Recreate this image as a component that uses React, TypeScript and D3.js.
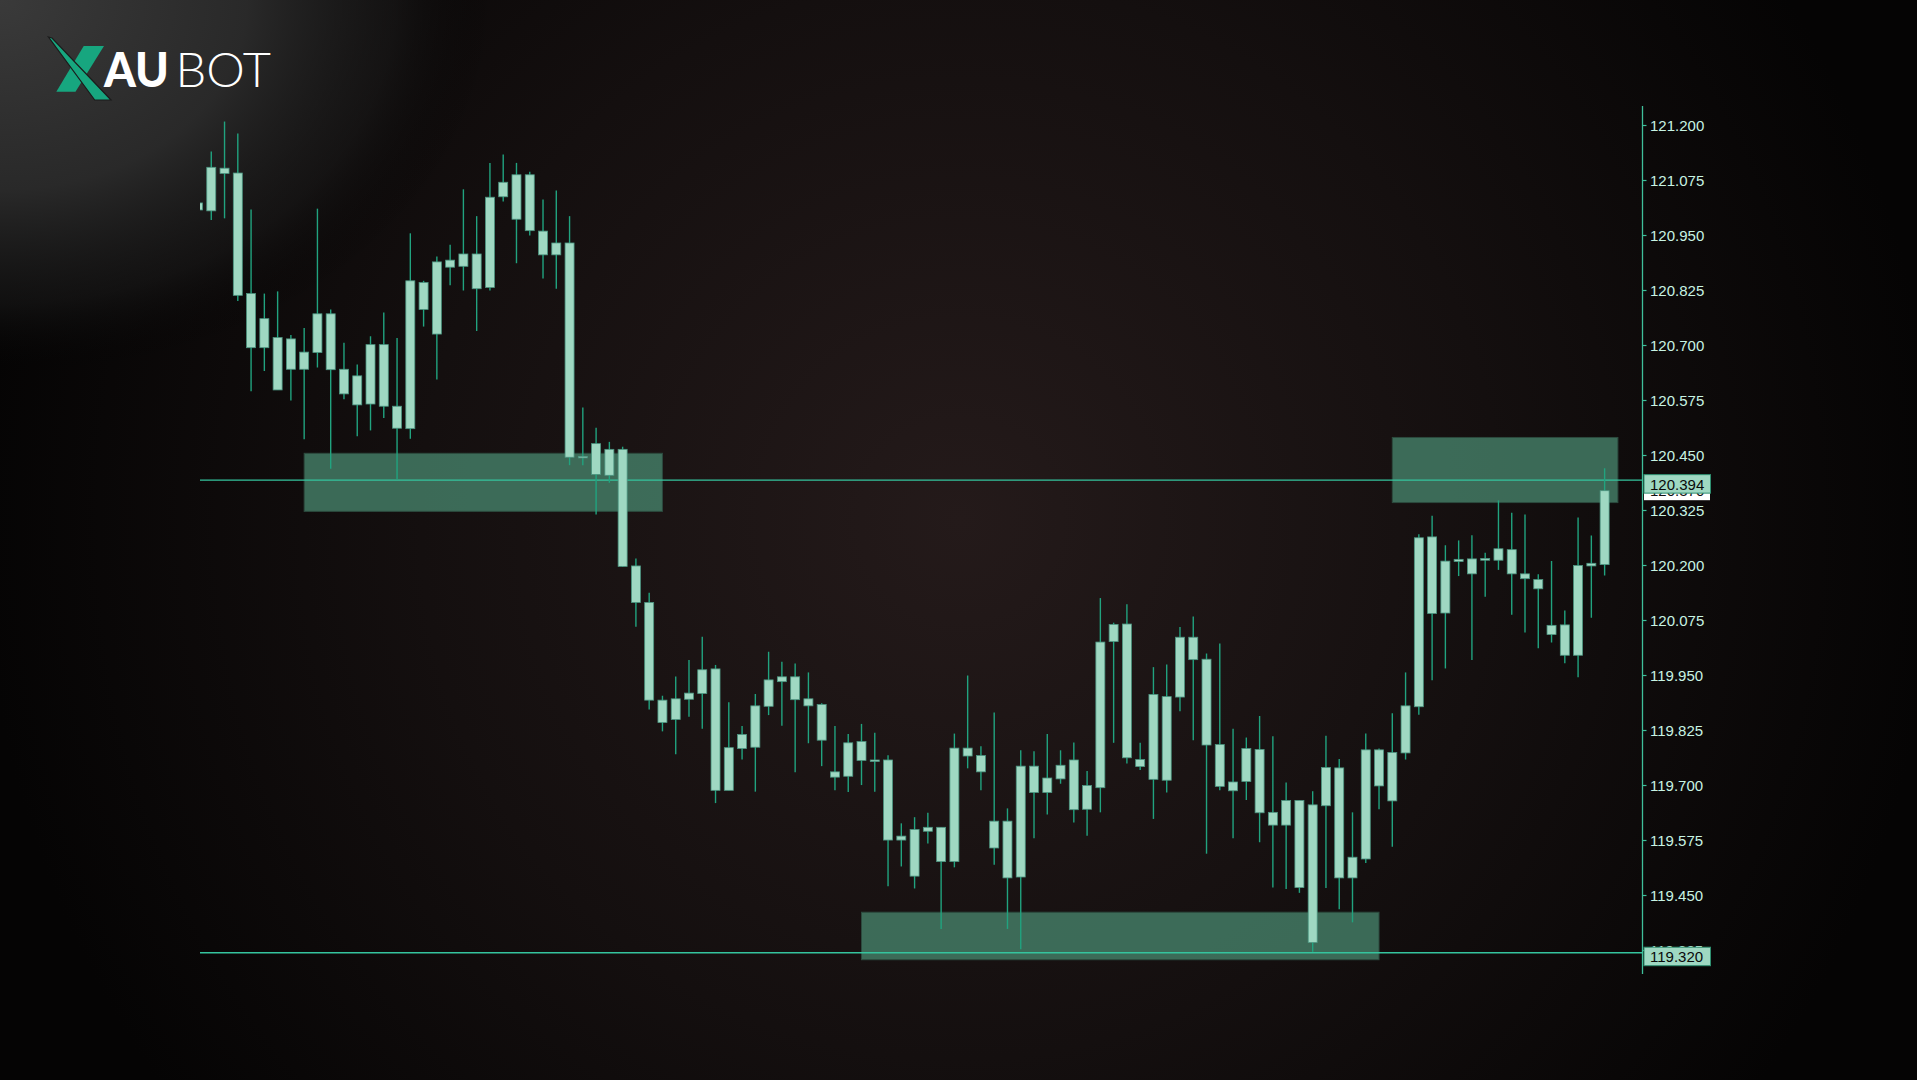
import { useEffect, useRef } from 'react'
import * as d3 from 'd3'

// candle data (one entry per bar, left to right)
const OPEN = [
  121.008, 121.006, 121.103, 121.092, 120.818, 120.761, 120.599, 120.715, 120.646, 120.772,
  120.772, 120.646, 120.565, 120.702, 120.702, 120.512, 120.511, 120.843, 120.726, 120.878,
  120.908, 120.829, 120.832, 121.071, 121.088, 121.088, 120.960, 120.933, 120.933, 120.448,
  120.477, 120.405, 120.464, 120.199, 120.116, 119.894, 119.850, 119.896, 119.909, 119.965,
  119.689, 119.784, 119.787, 119.880, 119.936, 119.947, 119.897, 119.884, 119.731, 119.721,
  119.800, 119.758, 119.758, 119.576, 119.600, 119.596, 119.605, 119.527, 119.785, 119.768,
  119.619, 119.619, 119.492, 119.744, 119.684, 119.715, 119.758, 119.646, 119.695, 120.027,
  120.067, 119.759, 119.714, 119.712, 119.901, 120.037, 119.987, 119.793, 119.688, 119.709,
  119.782, 119.639, 119.610, 119.666, 119.656, 119.654, 119.740, 119.490, 119.533, 119.781,
  119.665, 119.774, 119.879, 120.265, 120.092, 120.209, 120.215, 120.212, 120.212, 120.236,
  120.181, 120.168, 120.064, 120.065, 119.996, 120.199, 120.202,
]
const CLOSE = [
  121.024, 121.105, 121.091, 120.814, 120.695, 120.695, 120.718, 120.646, 120.685, 120.684,
  120.645, 120.590, 120.631, 120.567, 120.562, 120.562, 120.847, 120.782, 120.890, 120.894,
  120.880, 120.908, 121.037, 121.038, 120.987, 120.961, 120.906, 120.906, 120.446, 120.446,
  120.407, 120.464, 120.198, 120.116, 119.894, 119.843, 119.897, 119.910, 119.963, 119.689,
  119.786, 119.816, 119.881, 119.940, 119.947, 119.895, 119.881, 119.803, 119.719, 119.797,
  119.757, 119.755, 119.576, 119.585, 119.494, 119.605, 119.527, 119.785, 119.767, 119.731,
  119.558, 119.490, 119.744, 119.684, 119.717, 119.746, 119.645, 119.700, 120.026, 120.066,
  119.763, 119.743, 119.907, 119.902, 120.037, 119.986, 119.792, 119.698, 119.708, 119.784,
  119.638, 119.610, 119.666, 119.468, 119.343, 119.741, 119.490, 119.537, 119.781, 119.699,
  119.775, 119.881, 120.263, 120.091, 120.210, 120.214, 120.181, 120.216, 120.238, 120.181,
  120.170, 120.147, 120.043, 119.996, 120.200, 120.205, 120.370,
]
const HIGH = [
  121.030, 121.141, 121.209, 121.182, 121.009, 120.818, 120.823, 120.724, 120.740, 121.011,
  120.782, 120.706, 120.657, 120.721, 120.775, 120.717, 120.955, 120.847, 120.902, 120.929,
  121.055, 120.994, 121.115, 121.134, 121.115, 121.095, 121.032, 121.052, 120.994, 120.559,
  120.513, 120.481, 120.470, 120.216, 120.138, 119.904, 119.948, 119.985, 120.038, 119.974,
  119.889, 119.835, 119.908, 120.004, 119.981, 119.977, 119.957, 119.887, 119.835, 119.817,
  119.840, 119.820, 119.769, 119.614, 119.628, 119.638, 119.605, 119.818, 119.950, 119.789,
  119.866, 119.648, 119.780, 119.778, 119.817, 119.780, 119.798, 119.733, 120.126, 120.070,
  120.112, 119.797, 119.969, 119.975, 120.060, 120.084, 120.000, 120.023, 119.829, 119.809,
  119.858, 119.812, 119.707, 119.666, 119.687, 119.813, 119.760, 119.639, 119.818, 119.784,
  119.864, 119.957, 120.271, 120.313, 120.246, 120.257, 120.269, 120.229, 120.348, 120.320,
  120.316, 120.180, 120.210, 120.098, 120.309, 120.268, 120.421,
]
const LOW = [
  121.000, 120.985, 120.989, 120.801, 120.596, 120.642, 120.599, 120.575, 120.487, 120.650,
  120.420, 120.578, 120.494, 120.507, 120.535, 120.396, 120.488, 120.743, 120.623, 120.837,
  120.825, 120.733, 120.825, 121.027, 120.887, 120.950, 120.852, 120.829, 120.428, 120.428,
  120.316, 120.388, 120.197, 120.061, 119.873, 119.823, 119.771, 119.856, 119.829, 119.660,
  119.689, 119.759, 119.686, 119.860, 119.836, 119.730, 119.796, 119.744, 119.689, 119.685,
  119.701, 119.686, 119.471, 119.516, 119.466, 119.568, 119.374, 119.514, 119.739, 119.689,
  119.520, 119.374, 119.328, 119.580, 119.634, 119.704, 119.616, 119.586, 119.639, 119.797,
  119.750, 119.735, 119.624, 119.684, 119.869, 119.803, 119.545, 119.689, 119.580, 119.667,
  119.571, 119.468, 119.465, 119.456, 119.322, 119.467, 119.419, 119.389, 119.524, 119.646,
  119.561, 119.759, 119.861, 119.939, 119.966, 120.176, 119.985, 120.129, 120.190, 120.088,
  120.048, 120.012, 120.025, 119.978, 119.946, 120.081, 120.177,
]

const TICKS = [
  121.2, 121.075, 120.95, 120.825, 120.7, 120.575, 120.45, 120.325,
  120.2, 120.075, 119.95, 119.825, 119.7, 119.575, 119.45, 119.325,
]

// supply / demand zones (bar index range and price range)
const ZONE_START = [8, 50, 90]
const ZONE_END = [35, 89, 107]
const ZONE_TOP = [120.455, 119.412, 120.491]
const ZONE_BOTTOM = [120.323, 119.304, 120.343]

const LEVELS = [120.394, 119.32]
const LAST_PRICE = 120.37

export default function App() {
  const ref = useRef<SVGSVGElement>(null)

  useEffect(() => {
    if (!ref.current) return
    document.body.style.margin = '0'
    document.body.style.overflow = 'hidden'

    const width = 1917
    const height = 1080
    const axisX = 1642.5

    const svg = d3.select(ref.current)
    svg.selectAll('*').remove()
    svg.attr('width', width).attr('height', height).attr('viewBox', `0 0 ${width} ${height}`)

    const x = d3.scaleLinear().domain([0, 106]).range([198, 198 + 106 * 13.27])
    const y = d3.scaleLinear().domain([119.45, 121.2]).range([895.5, 125.5])

    const defs = svg.append('defs')

    // Background
    const glow = defs.append('radialGradient').attr('id', 'glow')
      .attr('gradientUnits', 'userSpaceOnUse')
      .attr('cx', 960).attr('cy', 520).attr('r', 980)
    glow.append('stop').attr('offset', 0).attr('stop-color', '#241a1a')
    glow.append('stop').attr('offset', 0.55).attr('stop-color', '#140f0f')
    glow.append('stop').attr('offset', 1).attr('stop-color', '#050404')

    const corner = defs.append('radialGradient').attr('id', 'corner')
      .attr('gradientUnits', 'userSpaceOnUse')
      .attr('cx', 0).attr('cy', 0).attr('r', 380)
      .attr('gradientTransform', 'scale(1.3,1)')
    corner.append('stop').attr('offset', 0).attr('stop-color', '#3a3a3a').attr('stop-opacity', 1)
    corner.append('stop').attr('offset', 0.5).attr('stop-color', '#2b2b2b').attr('stop-opacity', 0.95)
    corner.append('stop').attr('offset', 0.8).attr('stop-color', '#1c1c1c').attr('stop-opacity', 0.5)
    corner.append('stop').attr('offset', 1).attr('stop-color', '#000').attr('stop-opacity', 0)

    defs.append('clipPath').attr('id', 'plot')
      .append('rect').attr('x', 200).attr('y', 0).attr('width', axisX - 200).attr('height', height)

    svg.append('rect').attr('width', width).attr('height', height).attr('fill', 'url(#glow)')
    svg.append('rect').attr('width', width).attr('height', height).attr('fill', 'url(#corner)')

    // Logo
    const logo = svg.append('g')
    logo.append('polygon')
      .attr('points', '83.7,46 104,46 75.5,91.7 56.3,91.7')
      .attr('fill', '#17a67f')
    logo.append('polygon')
      .attr('points', '48.5,37 52,38 111,100 94.7,100')
      .attr('fill', '#17a67f')
      .attr('stroke', '#1b1b1b').attr('stroke-width', 1.2)
    logo.append('text')
      .attr('x', 104).attr('y', 86.7)
      .attr('font-family', 'Lato, "Open Sans", sans-serif')
      .attr('font-weight', 900).attr('font-size', 47)
      .attr('fill', '#ffffff')
      .attr('textLength', 65).attr('lengthAdjust', 'spacingAndGlyphs')
      .text('AU')
    logo.append('text')
      .attr('x', 175.5).attr('y', 86.7)
      .attr('font-family', 'Lato, "Open Sans", sans-serif')
      .attr('font-weight', 300).attr('font-size', 47)
      .attr('fill', '#ffffff')
      .attr('textLength', 95.5).attr('lengthAdjust', 'spacingAndGlyphs')
      .text('BOT')

    const plot = svg.append('g').attr('clip-path', 'url(#plot)')

    // Zones
    ZONE_START.forEach((s, i) => {
      plot.append('rect')
        .attr('x', x(s)).attr('y', y(ZONE_TOP[i]))
        .attr('width', x(ZONE_END[i]) - x(s))
        .attr('height', y(ZONE_BOTTOM[i]) - y(ZONE_TOP[i]))
        .attr('fill', '#4a8a70').attr('fill-opacity', 0.75)
        .attr('stroke', '#2c4a3e').attr('stroke-width', 1)
    })

    // Level lines
    LEVELS.forEach(l => {
      plot.append('line')
        .attr('x1', 200).attr('x2', axisX)
        .attr('y1', y(l)).attr('y2', y(l))
        .attr('stroke', '#35c49e').attr('stroke-width', 1.4)
    })

    // Candles
    const idx = d3.range(OPEN.length)
    const bw = 9
    plot.append('g').selectAll('line')
      .data(idx).join('line')
      .attr('x1', d => x(d)).attr('x2', d => x(d))
      .attr('y1', d => y(HIGH[d])).attr('y2', d => y(LOW[d]))
      .attr('stroke', '#21a37f').attr('stroke-width', 1.4)

    plot.append('g').selectAll('rect')
      .data(idx).join('rect')
      .attr('x', d => x(d) - bw / 2)
      .attr('y', d => y(Math.max(OPEN[d], CLOSE[d])))
      .attr('width', bw)
      .attr('height', d => Math.max(1.5, Math.abs(y(OPEN[d]) - y(CLOSE[d]))))
      .attr('fill', '#9fd8c2')
      .attr('stroke', '#4b9580').attr('stroke-width', 0.8)

    // Price axis
    svg.append('line')
      .attr('x1', axisX).attr('x2', axisX)
      .attr('y1', 106).attr('y2', 974)
      .attr('stroke', '#3fbf9a').attr('stroke-width', 1.3)

    const ticks = svg.append('g')
    TICKS.forEach(t => {
      ticks.append('line')
        .attr('x1', axisX).attr('x2', axisX + 4)
        .attr('y1', y(t)).attr('y2', y(t))
        .attr('stroke', '#3fbf9a').attr('stroke-width', 1.2)
      ticks.append('text')
        .attr('x', 1650).attr('y', y(t)).attr('dy', '0.36em')
        .attr('font-family', '"Liberation Sans", Arial, sans-serif')
        .attr('font-size', 15)
        .attr('fill', '#c8f3e3')
        .text(d3.format('.3f')(t))
    })

    // Last price label (white), partly hidden under the level label
    svg.append('rect')
      .attr('x', 1644).attr('y', y(LAST_PRICE) - 8.5)
      .attr('width', 66).attr('height', 18)
      .attr('fill', '#ffffff')
    svg.append('text')
      .attr('x', 1650).attr('y', y(LAST_PRICE)).attr('dy', '0.36em')
      .attr('font-family', '"Liberation Sans", Arial, sans-serif')
      .attr('font-size', 15).attr('fill', '#111')
      .text(d3.format('.3f')(LAST_PRICE))

    // Level labels
    LEVELS.forEach(l => {
      svg.append('rect')
        .attr('x', 1644).attr('y', y(l) - 5.5)
        .attr('width', 66.5).attr('height', 18.5)
        .attr('fill', '#9fd8c2')
        .attr('stroke', '#2f8f70').attr('stroke-width', 1)
      svg.append('text')
        .attr('x', 1650).attr('y', y(l) + 9.5)
        .attr('font-family', '"Liberation Sans", Arial, sans-serif')
        .attr('font-size', 15).attr('fill', '#0a0a0a')
        .text(d3.format('.3f')(l))
    })
  }, [])

  return (
    <div style={{ position: 'absolute', left: 0, top: 0 }}>
      <svg ref={ref} style={{ display: 'block' }} />
    </div>
  )
}
